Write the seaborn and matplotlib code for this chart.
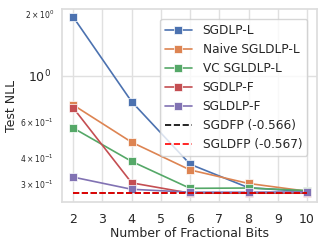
import numpy as np
import pandas as pd
import matplotlib
matplotlib.use("Agg")
import matplotlib.pyplot as plt
import seaborn as sns

bits = [2, 4, 6, 8, 10]

sgdlp_l = [1.93, 0.75, 0.373, 0.287, 0.275]
naive_sgldlp_l = [0.723, 0.477, 0.35, 0.301, 0.276]
vc_sgldlp_l = [0.559, 0.385, 0.285, 0.286, 0.278]
sgdlp_f = [0.70, 0.303, 0.270, 0.270, 0.270]
sgldlp_f = [0.323, 0.282, 0.273, 0.273, 0.274]

# full precision baselines, log10 of NLL as in the legend
sgdfp_log = -0.566
sgldfp_log = -0.567

series = [
    ("SGDLP-L", sgdlp_l),
    ("Naive SGLDLP-L", naive_sgldlp_l),
    ("VC SGLDLP-L", vc_sgldlp_l),
    ("SGDLP-F", sgdlp_f),
    ("SGLDLP-F", sgldlp_f),
]

sns.set_theme(style="whitegrid")
colors = sns.color_palette("deep")

fig, ax = plt.subplots(figsize=(3.27, 2.45), dpi=100)
fig.subplots_adjust(left=0.19, right=0.969, top=0.963, bottom=0.176)

for i, (name, vals) in enumerate(series):
    sns.lineplot(x=bits, y=vals, ax=ax, color=colors[i], marker="s",
                 markersize=5.5, markeredgewidth=0.5, linewidth=1.2, label=name)

sns.lineplot(x=bits, y=[10 ** sgdfp_log] * len(bits), ax=ax, color="black",
             linestyle="--", linewidth=1.2, label=f"SGDFP ({sgdfp_log})")
sns.lineplot(x=bits, y=[10 ** sgldfp_log] * len(bits), ax=ax, color="red",
             linestyle="--", linewidth=1.2, label=f"SGLDFP ({sgldfp_log})")

ax.set_yscale("log")
ax.set_ylim(0.245, 2.11)
ax.set_xlim(1.62, 10.34)
ax.set_xticks(range(2, 11))
ax.grid(True, which="major", color="#e0e0e0", linewidth=1)
ax.grid(False, which="minor")
ax.tick_params(axis="both", which="major", labelsize=9, pad=2)
ax.tick_params(axis="y", which="minor", labelsize=5.5, pad=2)
for sp in ax.spines.values():
    sp.set_color("#dddddd")

ax.set_xlabel("Number of Fractional Bits", fontsize=9, labelpad=1)
ax.set_ylabel("Test NLL", fontsize=9, labelpad=2)
ax.legend(loc="upper right", fontsize=8.7, frameon=True, handlelength=2.2,
          borderpad=0.4, labelspacing=0.5, handletextpad=0.9,
          bbox_to_anchor=(0.985, 0.98))

fig.savefig("out.png", dpi=100)
